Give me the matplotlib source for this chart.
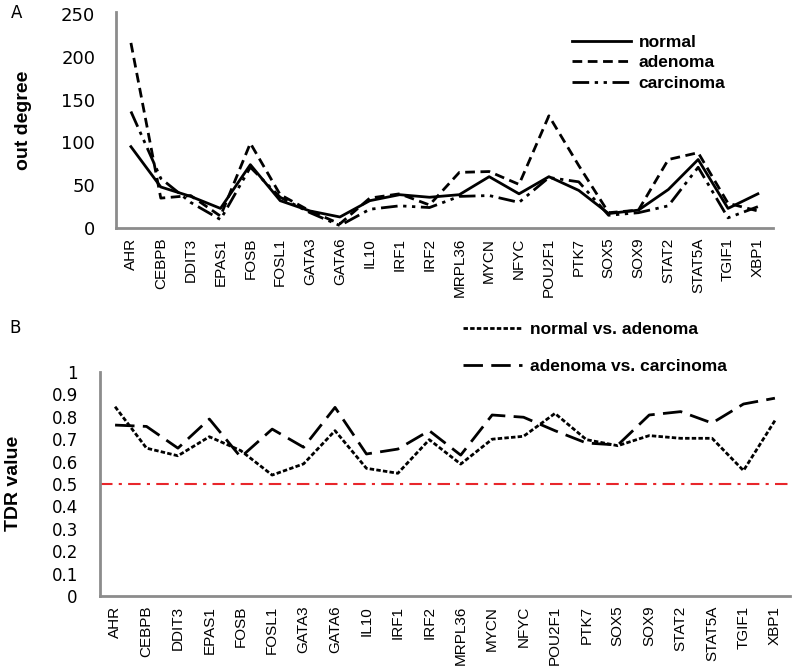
import matplotlib
matplotlib.use("Agg")
import matplotlib.pyplot as plt
import numpy as np

# genes (same order in both panels)
genes = ["AHR", "CEBPB", "DDIT3", "EPAS1", "FOSB", "FOSL1", "GATA3", "GATA6",
         "IL10", "IRF1", "IRF2", "MRPL36", "MYCN", "NFYC", "POU2F1", "PTK7",
         "SOX5", "SOX9", "STAT2", "STAT5A", "TGIF1", "XBP1"]

# panel A: out degree
normal = [95, 48, 37, 23, 74, 32, 20, 13, 32, 39, 36, 39, 60, 40, 60, 44,
          17, 21, 45, 80, 23, 40]
adenoma = [216, 35, 38, 14, 99, 39, 20, 5, 35, 40, 27, 65, 66, 51, 131, 73,
           18, 21, 80, 88, 29, 20]
carcinoma = [136, 58, 30, 10, 71, 36, 18, 3, 22, 26, 24, 37, 38, 30, 59, 54,
             15, 18, 26, 71, 12, 25]

# panel B: TDR value
normal_vs_adenoma = [0.845, 0.66, 0.626, 0.711, 0.649, 0.54, 0.59, 0.738,
                     0.57, 0.548, 0.698, 0.589, 0.70, 0.713, 0.815, 0.698,
                     0.671, 0.716, 0.704, 0.704, 0.56, 0.783]
adenoma_vs_carcinoma = [0.763, 0.757, 0.66, 0.79, 0.62, 0.745, 0.664, 0.842,
                        0.634, 0.656, 0.738, 0.629, 0.808, 0.798, 0.738, 0.683,
                        0.674, 0.808, 0.823, 0.772, 0.857, 0.883]
threshold = 0.5

x = np.arange(len(genes))
axis_grey = "#8c8c8c"

fig = plt.figure(figsize=(8, 6.69), dpi=100)
axA = fig.add_axes([0.145, 0.659, 0.821, 0.323])
axB = fig.add_axes([0.125, 0.109, 0.8625, 0.335])

# ---- panel A
axA.plot(x, normal, color="black", lw=2, ls="-", label="normal")
axA.plot(x, adenoma, color="black", lw=2, ls=(0, (3.5, 2)), label="adenoma")
axA.plot(x, carcinoma, color="black", lw=2, ls=(0, (6, 2, 1.2, 2, 1.2, 2)), label="carcinoma")
axA.set_xlim(-0.5, len(genes) - 0.5)
axA.set_ylim(0, 252)
axA.set_yticks([0, 50, 100, 150, 200, 250])
axA.set_ylabel("out degree", fontsize=14, fontweight="bold", family="Liberation Sans")
axA.yaxis.set_label_coords(-0.128, 0.5)
axA.legend(loc="upper left", bbox_to_anchor=(0.715, 0.948), bbox_transform=fig.transFigure,
           frameon=False, borderpad=0, borderaxespad=0, handlelength=3.4,
           handletextpad=0.45, labelspacing=0.3,
           prop={"family": "Liberation Sans", "weight": "bold", "size": 12.5})

# ---- panel B
axB.plot(x, normal_vs_adenoma, color="black", lw=2, ls=(0, (1.6, 0.8)), label="normal vs. adenoma")
axB.plot(x, adenoma_vs_carcinoma, color="black", lw=2, ls=(0, (7, 3)), label="adenoma vs. carcinoma")
axB.axhline(threshold, color="#e8262b", lw=1.5, ls=(0, (6, 3, 1.5, 3)))
axB.set_xlim(-0.48, len(genes) - 0.52)
axB.set_ylim(0, 1)
axB.set_yticks(np.arange(0, 1.01, 0.1))
axB.set_yticklabels(["0", "0.1", "0.2", "0.3", "0.4", "0.5", "0.6", "0.7", "0.8", "0.9", "1"])
axB.set_ylabel("TDR value", fontsize=14, fontweight="bold", family="Liberation Sans")
axB.yaxis.set_label_coords(-0.113, 0.504)
axB.legend(loc="upper left", bbox_to_anchor=(0.579, 0.519), bbox_transform=fig.transFigure,
           frameon=False, borderpad=0, borderaxespad=0, handlelength=3.4,
           handletextpad=0.45, labelspacing=1.25,
           prop={"family": "Liberation Sans", "weight": "bold", "size": 12.5})

for ax, ysize, ypad in [(axA, 13, 15), (axB, 12, 16)]:
    for side in ["top", "right"]:
        ax.spines[side].set_visible(False)
    for side in ["left", "bottom"]:
        ax.spines[side].set_color(axis_grey)
        ax.spines[side].set_linewidth(2)
    ax.set_xticks(x)
    ax.set_xticklabels(genes, rotation=90, fontsize=11, family="Liberation Sans")
    ax.tick_params(axis="x", length=0, pad=7)
    ax.tick_params(axis="y", length=0, pad=ypad, labelsize=ysize)

fig.text(0.021, 0.981, "A", fontsize=12, va="center", ha="center")
fig.text(0.019, 0.51, "B", fontsize=12, va="center", ha="center")

fig.savefig("out.png", dpi=100)
